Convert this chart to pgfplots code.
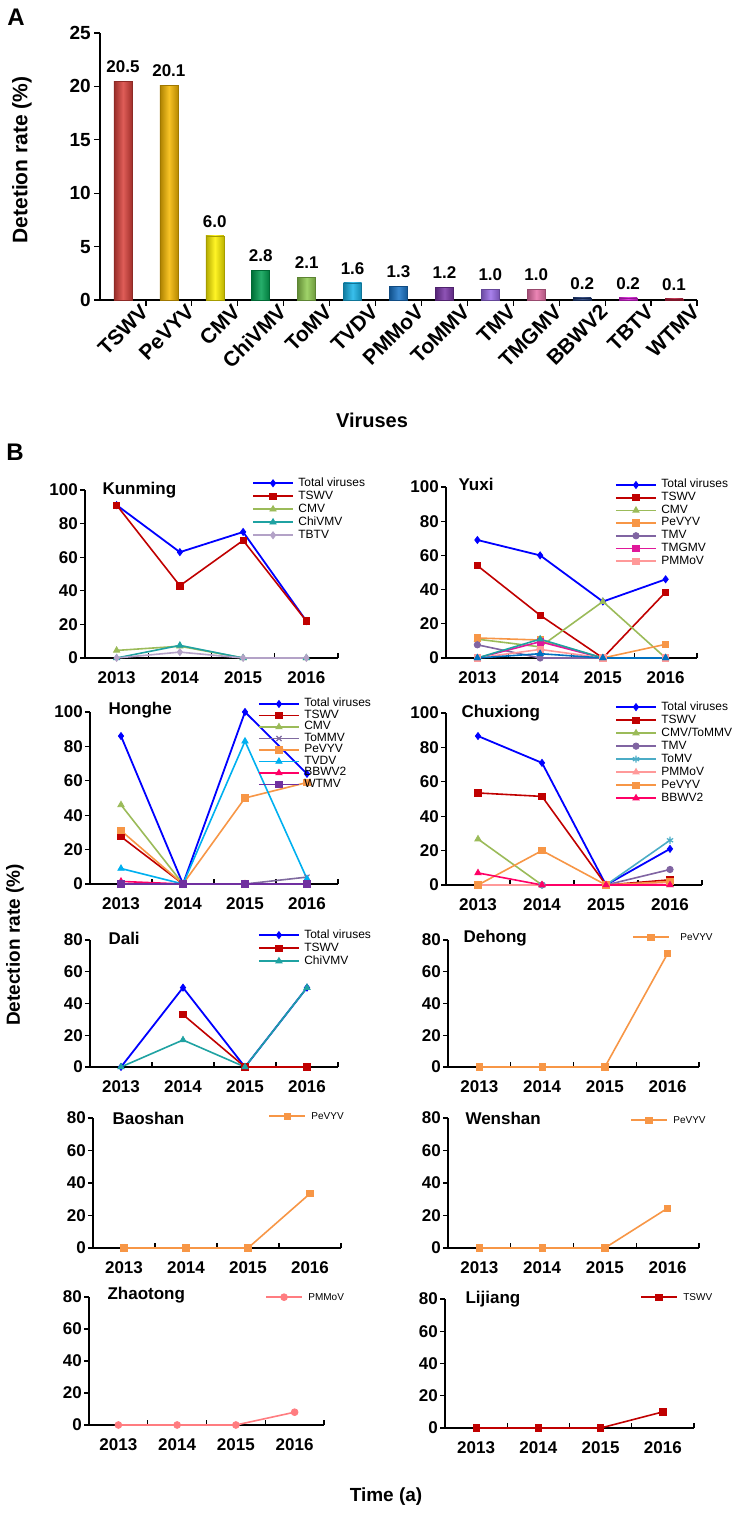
\documentclass[border=0pt]{standalone}
\usepackage{fontspec}
\setmainfont{Liberation Sans}
\usepackage{pgfplots}
\pgfplotsset{compat=1.18}
\newcommand{\fs}[1]{\fontsize{#1}{#1}\selectfont}

\definecolor{cTot}{HTML}{0000FF}
\definecolor{cTSWV}{HTML}{C00000}
\definecolor{cCMV}{HTML}{9BBB59}
\definecolor{cChi}{HTML}{1FA2A2}
\definecolor{cTBTV}{HTML}{B3A2C7}
\definecolor{cPe}{HTML}{F79646}
\definecolor{cTMV}{HTML}{8064A2}
\definecolor{cTMGMV}{HTML}{E0179A}
\definecolor{cPMMoV}{HTML}{FF9999}
\definecolor{cToMMV}{HTML}{7F6A9F}
\definecolor{cTVDV}{HTML}{00B0F0}
\definecolor{cBBWV}{HTML}{FF0066}
\definecolor{cWTMV}{HTML}{7030A0}
\definecolor{cToMV}{HTML}{4BACC6}
\definecolor{cBlue2}{HTML}{0070C0}
\definecolor{cPMZ}{HTML}{FF7C80}

\definecolor{b1}{HTML}{D9403A}
\definecolor{b2}{HTML}{F6B800}
\definecolor{b3}{HTML}{FFF200}
\definecolor{b4}{HTML}{00A050}
\definecolor{b5}{HTML}{8FCB4F}
\definecolor{b6}{HTML}{17B4E8}
\definecolor{b7}{HTML}{1874C8}
\definecolor{b8}{HTML}{7A35A8}
\definecolor{b9}{HTML}{9A6BE8}
\definecolor{b10}{HTML}{E870A8}
\definecolor{b11}{HTML}{1F3A78}
\definecolor{b12}{HTML}{E020E0}
\definecolor{b13}{HTML}{C02040}

\tikzset{city/.style={anchor=west, font=\fs{17}\bfseries}}

\pgfplotsset{
  Bax/.style={
    anchor=south west, scale only axis, clip=false,
    xmin=0, xmax=4, ymin=0,
    axis x line*=bottom, axis y line*=left,
    axis line style={-, line width=1.2pt, black},
    every tick/.style={black, line width=1.2pt},
    major tick length=5pt,
    xtick align=inside, ytick align=outside,
    xtick={1,2,3,4}, xticklabels={},
    extra x ticks={0.5,1.5,2.5,3.5},
    extra x tick labels={2013,2014,2015,2016},
    extra x tick style={major tick length=0pt, tick label style={yshift=-10pt}},
    tick label style={font=\fs{17}\bfseries},
    /pgf/number format/assume math mode=true,
    yticklabel style={inner sep=2pt},
    legend style={draw=none, fill=none, anchor=north west, font=\fs{12},
      inner sep=0pt, row sep=0pt, column sep=4pt,
      nodes={inner sep=0.5pt, text height=9pt, text depth=3pt}},
    legend cell align=left,
    legend image code/.code={\draw[mark repeat=2, mark phase=2, ##1, line width=1.7pt] plot coordinates {(0pt,0pt) (20pt,0pt) (40pt,0pt)};},
  },
  Y100/.style={ymax=100, ytick={0,20,40,60,80,100}},
  Y80/.style={ymax=80, ytick={0,20,40,60,80}},
  smallleg/.style={legend style={font=\fs{10}, column sep=5pt},
    legend image code/.code={\draw[mark repeat=2, mark phase=2, ##1, line width=1.7pt] plot coordinates {(0pt,0pt) (18pt,0pt) (36pt,0pt)};}},
  pTot/.style={color=cTot, line width=1.8pt, mark=diamond*, mark size=3.5pt, mark options={solid, line width=0.8pt}},
  pTSWV/.style={color=cTSWV, line width=1.6pt, mark=square*, mark size=3.2pt, mark options={solid, line width=0.8pt}},
  pCMV/.style={color=cCMV, line width=1.6pt, mark=triangle*, mark size=3.6pt, mark options={solid, line width=0.8pt}},
  pChi/.style={color=cChi, line width=1.6pt, mark=triangle*, mark size=3.6pt, mark options={solid, line width=0.8pt}},
  pTBTV/.style={color=cTBTV, line width=1.6pt, mark=diamond*, mark size=3.5pt, mark options={solid, line width=0.8pt}},
  pPe/.style={color=cPe, line width=1.6pt, mark=square*, mark size=3.2pt, mark options={solid, line width=0.8pt}},
  pTMV/.style={color=cTMV, line width=1.6pt, mark=*, mark size=3.2pt, mark options={solid, line width=0.8pt}},
  pTMGMV/.style={color=cTMGMV, line width=1.6pt, mark=square*, mark size=3.2pt, mark options={solid, line width=0.8pt}},
  pPMMoV/.style={color=cPMMoV, line width=1.6pt, mark=square*, mark size=3.2pt, mark options={solid, line width=0.8pt}},
  pPMMoVt/.style={color=cPMMoV, line width=1.6pt, mark=triangle*, mark size=3.6pt, mark options={solid, line width=0.8pt}},
  pToMMV/.style={color=cToMMV, line width=1.6pt, mark=x, mark size=3.6pt, mark options={solid, line width=1.2pt}},
  pTVDV/.style={color=cTVDV, line width=1.6pt, mark=triangle*, mark size=3.6pt, mark options={solid, line width=0.8pt}},
  pBBWV/.style={color=cBBWV, line width=1.6pt, mark=triangle*, mark size=3.6pt, mark options={solid, line width=0.8pt}},
  pWTMV/.style={color=cWTMV, line width=1.6pt, mark=square*, mark size=3.2pt, mark options={solid, line width=0.8pt}},
  pToMV/.style={color=cToMV, line width=1.6pt, mark=asterisk, mark size=3.6pt, mark options={solid, line width=1.2pt}},
  pBlue2/.style={color=cBlue2, line width=1.6pt, mark=triangle*, mark size=3.6pt, mark options={solid, line width=0.8pt}},
  pPMZ/.style={color=cPMZ, line width=1.6pt, mark=*, mark size=3.4pt, mark options={solid, line width=0.8pt}},
  bar/.style={ybar, bar width=18pt, draw=#1!65!black, line width=0.6pt, left color=#1!70!black, right color=#1!75!black, middle color=#1!85!white, nodes near coords},
}

\begin{document}
\begin{tikzpicture}
\useasboundingbox (0,0) rectangle (739pt,1514pt);

% ---------- Panel A ----------
\node[font=\fs{24}\bfseries] at (16pt,1497pt) {A};
\node[font=\fs{21}\bfseries, rotate=90] at (22pt,1354pt) {Detetion rate (\%)};
\node[font=\fs{20}\bfseries] at (372pt,1094pt) {Viruses};
\begin{axis}[at={(100pt,1214pt)}, anchor=south west, scale only axis,
  width=597pt, height=267pt, clip=false,
  xmin=-0.5, xmax=12.5, ymin=0, ymax=25, ytick={0,5,10,15,20,25},
  axis x line*=bottom, axis y line*=left,
  axis line style={-, line width=1.2pt, black},
  every tick/.style={black, line width=1.2pt}, major tick length=6pt,
  tick align=outside,
  xtick={0.5,1.5,2.5,3.5,4.5,5.5,6.5,7.5,8.5,9.5,10.5,11.5,12.5}, xticklabels={},
  extra x ticks={0,1,2,3,4,5,6,7,8,9,10,11,12},
  extra x tick labels={TSWV,PeVYV,CMV,ChiVMV,ToMV,TVDV,PMMoV,ToMMV,TMV,TMGMV,BBWV2,TBTV,WTMV},
  extra x tick style={major tick length=0pt, tick label style={rotate=45, anchor=east, font=\fs{21}\bfseries, xshift=13pt, yshift=-21pt}},
  yticklabel style={font=\fs{19}\bfseries, inner sep=3pt},
  /pgf/number format/assume math mode=true,
  every node near coord/.append style={font=\fs{17}\bfseries, yshift=5pt, black,
    /pgf/number format/fixed, /pgf/number format/fixed zerofill, /pgf/number format/precision=1},
]
\addplot[bar=b1] coordinates {(0,20.5)};
\addplot[bar=b2] coordinates {(1,20.1)};
\addplot[bar=b3] coordinates {(2,6.0)};
\addplot[bar=b4] coordinates {(3,2.8)};
\addplot[bar=b5] coordinates {(4,2.1)};
\addplot[bar=b6] coordinates {(5,1.6)};
\addplot[bar=b7] coordinates {(6,1.3)};
\addplot[bar=b8] coordinates {(7,1.2)};
\addplot[bar=b9] coordinates {(8,1.0)};
\addplot[bar=b10] coordinates {(9,1.0)};
\addplot[bar=b11] coordinates {(10,0.2)};
\addplot[bar=b12] coordinates {(11,0.2)};
\addplot[bar=b13] coordinates {(12,0.1)};
\end{axis}

% ---------- Panel B ----------
\node[font=\fs{24}\bfseries] at (15pt,1062pt) {B};
\node[font=\fs{19}\bfseries, rotate=90] at (15pt,569pt) {Detection rate (\%)};
\node[font=\fs{19}\bfseries] at (386pt,17pt) {Time (a)};

% Kunming
\begin{axis}[Bax, Y100, at={(85pt,856pt)}, width=253pt, height=168pt,
  legend style={at={(0.660,1.080)}}]
\addplot[pTot] coordinates {(0.5,91) (1.5,63) (2.5,75) (3.5,22)};
\addplot[pTSWV] coordinates {(0.5,91) (1.5,43) (2.5,70) (3.5,22)};
\addplot[pCMV] coordinates {(0.5,4.5) (1.5,7) (2.5,0) (3.5,0)};
\addplot[pChi] coordinates {(0.5,0) (1.5,7.5) (2.5,0) (3.5,0)};
\addplot[pTBTV] coordinates {(0.5,0) (1.5,3.5) (2.5,0) (3.5,0)};
\legend{Total viruses,TSWV,CMV,ChiVMV,TBTV}
\node[city] at (rel axis cs:0,1) [xshift=14pt] {Kunming};
\end{axis}

% Yuxi
\begin{axis}[Bax, Y100, at={(446pt,856pt)}, width=251pt, height=171pt,
  legend style={at={(0.673,1.050)}, nodes={text height=8.7pt, text depth=3pt}}]
\addplot[pTot] coordinates {(0.5,69) (1.5,60) (2.5,33) (3.5,46)};
\addplot[pTSWV] coordinates {(0.5,54) (1.5,25) (2.5,0) (3.5,38.5)};
\addplot[pCMV] coordinates {(0.5,11) (1.5,6.5) (2.5,33) (3.5,0)};
\addplot[pPe] coordinates {(0.5,11.7) (1.5,10.5) (2.5,0) (3.5,8)};
\addplot[pTMV] coordinates {(0.5,7.7) (1.5,0) (2.5,0) (3.5,0)};
\addplot[pTMGMV] coordinates {(0.5,0) (1.5,9.5) (2.5,0) (3.5,0)};
\addplot[pPMMoV] coordinates {(0.5,0) (1.5,5) (2.5,0) (3.5,0)};
\addplot[pChi, forget plot] coordinates {(0.5,0) (1.5,11) (2.5,0) (3.5,0)};
\addplot[pBlue2, forget plot] coordinates {(0.5,0) (1.5,2.5) (2.5,0) (3.5,0)};
\legend{Total viruses,TSWV,CMV,PeVYV,TMV,TMGMV,PMMoV}
\node[city] at (rel axis cs:0,1) [xshift=9pt, yshift=3pt] {Yuxi};
\end{axis}

% Honghe
\begin{axis}[Bax, Y100, at={(90pt,630pt)}, width=248pt, height=172pt,
  legend style={at={(0.677,1.081)}, nodes={text height=8pt, text depth=2.5pt}}]
\addplot[pTot] coordinates {(0.5,86) (1.5,0) (2.5,100) (3.5,64)};
\addplot[pTSWV] coordinates {(0.5,27.5) (1.5,0) (2.5,0) (3.5,0)};
\addplot[pCMV] coordinates {(0.5,46) (1.5,0) (2.5,0) (3.5,0)};
\addplot[pToMMV] coordinates {(0.5,0) (1.5,0) (2.5,0) (3.5,4)};
\addplot[pPe] coordinates {(0.5,31) (1.5,0) (2.5,50) (3.5,59)};
\addplot[pTVDV] coordinates {(0.5,9) (1.5,0) (2.5,83) (3.5,3)};
\addplot[pBBWV] coordinates {(0.5,1.5) (1.5,0) (2.5,0) (3.5,0)};
\addplot[pWTMV] coordinates {(0.5,0) (1.5,0) (2.5,0) (3.5,0)};
\legend{Total viruses,TSWV,CMV,ToMMV,PeVYV,TVDV,BBWV2,WTMV}
\node[city] at (rel axis cs:0,1) [xshift=15pt, yshift=2pt] {Honghe};
\end{axis}

% Chuxiong
\begin{axis}[Bax, Y100, at={(446pt,629pt)}, width=256pt, height=172pt,
  legend style={at={(0.660,1.073)}}]
\addplot[pTot] coordinates {(0.5,86.6) (1.5,71) (2.5,0) (3.5,21)};
\addplot[pTSWV] coordinates {(0.5,53.5) (1.5,51.5) (2.5,0) (3.5,3)};
\addplot[pCMV] coordinates {(0.5,26.7) (1.5,0) (2.5,0) (3.5,0)};
\addplot[pTMV] coordinates {(0.5,0) (1.5,0) (2.5,0) (3.5,9)};
\addplot[pToMV] coordinates {(0.5,0) (1.5,0) (2.5,0) (3.5,26)};
\addplot[pPMMoVt] coordinates {(0.5,0) (1.5,0) (2.5,0) (3.5,1.5)};
\addplot[pPe] coordinates {(0.5,0) (1.5,20) (2.5,0) (3.5,2)};
\addplot[pBBWV] coordinates {(0.5,7) (1.5,0) (2.5,0) (3.5,0)};
\legend{Total viruses,TSWV,CMV/ToMMV,TMV,ToMV,PMMoV,PeVYV,BBWV2}
\node[city] at (rel axis cs:0,1) [xshift=12pt] {Chuxiong};
\end{axis}

% Dali
\begin{axis}[Bax, Y80, at={(90pt,447pt)}, width=248pt, height=127pt,
  legend style={at={(0.677,1.091)}}]
\addplot[pTot] coordinates {(0.5,0) (1.5,50) (2.5,0) (3.5,50)};
\addplot[pTSWV] coordinates {(1.5,33) (2.5,0) (3.5,0)};
\addplot[pChi] coordinates {(0.5,0) (1.5,17) (2.5,0) (3.5,50)};
\legend{Total viruses,TSWV,ChiVMV}
\node[city] at (rel axis cs:0,1) [xshift=15pt, yshift=2pt] {Dali};
\end{axis}

% Dehong
\begin{axis}[Bax, Y80, smallleg, at={(448pt,447pt)}, width=251pt, height=127pt,
  legend style={at={(0.733,1.075)}, column sep=10pt}]
\addplot[pPe] coordinates {(0.5,0) (1.5,0) (2.5,0) (3.5,71.5)};
\legend{PeVYV}
\node[city] at (rel axis cs:0,1) [xshift=12pt, yshift=2pt] {Dehong};
\end{axis}

% Baoshan
\begin{axis}[Bax, Y80, smallleg, at={(93pt,266pt)}, width=248pt, height=130pt,
  legend style={at={(0.706,1.065)}}]
\addplot[pPe] coordinates {(0.5,0) (1.5,0) (2.5,0) (3.5,33.5)};
\legend{PeVYV}
\node[city] at (rel axis cs:0,1) [xshift=16pt] {Baoshan};
\end{axis}

% Wenshan
\begin{axis}[Bax, Y80, smallleg, at={(448pt,266pt)}, width=251pt, height=130pt,
  legend style={at={(0.725,1.035)}}]
\addplot[pPe] coordinates {(0.5,0) (1.5,0) (2.5,0) (3.5,24.5)};
\legend{PeVYV}
\node[city] at (rel axis cs:0,1) [xshift=14pt] {Wenshan};
\end{axis}

% Zhaotong
\begin{axis}[Bax, Y80, smallleg, at={(89pt,89pt)}, width=235pt, height=128pt,
  legend style={at={(0.749,1.051)}}]
\addplot[pPMZ] coordinates {(0.5,0) (1.5,0) (2.5,0) (3.5,8)};
\legend{PMMoV}
\node[city] at (rel axis cs:0,1) [xshift=15pt, yshift=2pt] {Zhaotong};
\end{axis}

% Lijiang
\begin{axis}[Bax, Y80, smallleg, at={(445pt,86pt)}, width=249pt, height=129pt,
  legend style={at={(0.783,1.066)}}]
\addplot[pTSWV] coordinates {(0.5,0) (1.5,0) (2.5,0) (3.5,10)};
\legend{TSWV}
\node[city] at (rel axis cs:0,1) [xshift=17pt] {Lijiang};
\end{axis}
\end{tikzpicture}
\end{document}
